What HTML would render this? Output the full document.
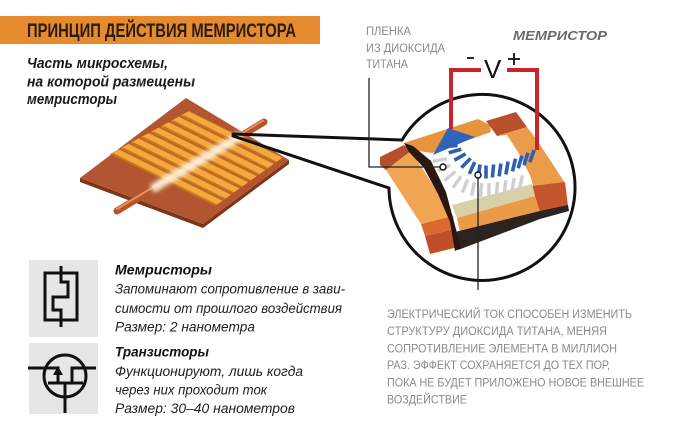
<!DOCTYPE html>
<html><head><meta charset="utf-8"><style>
html,body{margin:0;padding:0;background:#fff;}
svg{display:block;}
</style></head><body>
<svg xmlns="http://www.w3.org/2000/svg" width="696" height="429" viewBox="0 0 696 429">
<defs>
<filter id="blur" x="-20%" y="-50%" width="140%" height="200%"><feGaussianBlur stdDeviation="2.2"/></filter>
</defs>
<rect width="696" height="429" fill="#fff"/>

<!-- Header -->
<rect x="0" y="16" width="320" height="28" fill="#e58a2d"/>
<text x="27" y="37" font-family="Liberation Sans, sans-serif" font-weight="bold" font-size="19.5" textLength="269" lengthAdjust="spacingAndGlyphs" fill="#2a1c12">ПРИНЦИП ДЕЙСТВИЯ МЕМРИСТОРА</text>

<!-- Subtitle -->
<g font-family="Liberation Sans, sans-serif" font-weight="bold" font-style="italic" font-size="14.5" fill="#1a1a1a">
<text x="27" y="68" textLength="141" lengthAdjust="spacingAndGlyphs">Часть микросхемы,</text>
<text x="27" y="86.5" textLength="168" lengthAdjust="spacingAndGlyphs">на которой размещены</text>
<text x="27" y="104" textLength="90" lengthAdjust="spacingAndGlyphs">мемристоры</text>
</g>

<!-- Chip -->
<polygon points="80,178 203,224 289,160 289,164 203,228 80,182" fill="#7d3518"/>
<polygon points="186,98 289,160 203,224 80,178" fill="#b35530"/>
<line x1="117" y1="211" x2="264" y2="122" stroke="#b4552a" stroke-width="7" stroke-linecap="round"/>
<line x1="117" y1="209" x2="263" y2="120.5" stroke="#e3915c" stroke-width="2" stroke-linecap="round"/>
<g>
<polygon points="110,154 119.5,148.8 223.1,200.2 215,206" fill="#c47220"/>
<polygon points="111.5,153.2 118.5,149.4 222.3,200.8 216.3,205.1" fill="#f4a83e"/>
<polygon points="120,148.6 129.5,143.4 231.7,194.1 223.6,199.9" fill="#c47220"/>
<polygon points="121.5,147.8 128.5,144.0 230.9,194.7 224.9,199.0" fill="#f4a83e"/>
<polygon points="130,143.1 139.5,137.9 240.2,187.9 232.1,193.7" fill="#c47220"/>
<polygon points="131.5,142.3 138.5,138.5 239.4,188.5 233.4,192.8" fill="#f4a83e"/>
<polygon points="140,137.7 149.5,132.5 248.8,181.8 240.7,187.6" fill="#c47220"/>
<polygon points="141.5,136.9 148.5,133.1 248.0,182.4 242.0,186.7" fill="#f4a83e"/>
<polygon points="150,132.3 159.5,127.1 257.4,175.6 249.3,181.4" fill="#c47220"/>
<polygon points="151.5,131.5 158.5,127.7 256.6,176.2 250.6,180.5" fill="#f4a83e"/>
<polygon points="160,126.9 169.5,121.7 266.0,169.5 257.9,175.3" fill="#c47220"/>
<polygon points="161.5,126.1 168.5,122.3 265.2,170.1 259.2,174.4" fill="#f4a83e"/>
<polygon points="170,121.4 179.5,116.2 274.5,163.4 266.4,169.2" fill="#c47220"/>
<polygon points="171.5,120.6 178.5,116.8 273.7,164.0 267.7,168.3" fill="#f4a83e"/>
<polygon points="180,116 189.5,110.8 283.1,157.2 275,163" fill="#c47220"/>
<polygon points="181.5,115.2 188.5,111.4 282.3,157.8 276.3,162.1" fill="#f4a83e"/>
</g>
<g stroke="#c47220" stroke-width="1.2" opacity="0.9">
<line x1="113" y1="153.6" x2="217" y2="205"/>
<line x1="123" y1="148" x2="225.5" y2="199"/>
<line x1="133" y1="142.5" x2="234" y2="193"/>
<line x1="143" y1="137" x2="242.5" y2="187"/>
<line x1="153" y1="131.7" x2="251" y2="180.8"/>
<line x1="163" y1="126.2" x2="259.8" y2="174.6"/>
<line x1="173" y1="120.8" x2="268.3" y2="168.6"/>
<line x1="183" y1="115.4" x2="277" y2="162.4"/>
</g>
<line x1="152" y1="189" x2="242" y2="135" stroke="#fff6e2" stroke-width="9" opacity="0.9" filter="url(#blur)"/>

<!-- Callout -->
<g stroke="#111" stroke-width="3" fill="none" stroke-linecap="round" stroke-linejoin="round">
<path d="M233,134 L402,140"/>
<path d="M233,136 L389,188"/>
<path d="M402,140 A93,93 0 1 1 389,188"/>
</g>

<!-- Magnified device -->
<polygon points="404,143 478,119 490,125 491,132 432,153 412,150" fill="#e8943e"/>
<polygon points="486,121 516,112 527,127 497,136" fill="#b8502c"/>
<polygon points="497,136 527,127 537,140 565,183 535,192 530,175 518,152 507,135" fill="#eb9c4a"/>
<polygon points="532,186 565,182 568,206 540,214" fill="#c4552c"/>
<polygon points="452,205 532,184 535,196 457,218" fill="#d8d0a6"/>
<polygon points="457,218 535,196 540,212 460,232" fill="#eb9a48"/>
<polygon points="455,232 540,211 568,205 569,211 540,219 458,250" fill="#2b2420"/>
<polygon points="380,157 404,145 411,151 386,170 380,165" fill="#b54f2c"/>
<polygon points="386,170 411,151 453,216 421,224" fill="#f0a552"/>
<polygon points="421,224 453,216 455,229 425,236" fill="#d9692e"/>
<polygon points="425,236 455,229 458,247 430,254" fill="#bf4e2a"/>
<polygon points="404,143 413,146 431,161 446,192 461,248 455,251 450,222 438,194 424,168 409,152" fill="#2a1712"/>

<!-- gray bars -->
<g stroke="#cfcfcf" stroke-width="3.4">
<line x1="433" y1="161.2" x2="447" y2="158.8" />
<line x1="437.7" y1="170.9" x2="450.3" y2="165.1" />
<line x1="444.6" y1="180.5" x2="455.4" y2="171.5" />
<line x1="453" y1="187.7" x2="461" y2="176.3" />
<line x1="462.4" y1="192.5" x2="467.6" y2="179.5" />
<line x1="471.5" y1="195.8" x2="474.5" y2="182.2" />
<line x1="480.4" y1="197" x2="481.6" y2="183" />
<line x1="489" y1="197" x2="489" y2="183" />
<line x1="496.4" y1="196" x2="497.6" y2="182" />
<line x1="504" y1="193.9" x2="506" y2="180.1" />
<line x1="511.8" y1="191.9" x2="514.2" y2="178.1" />
<line x1="519.5" y1="188.8" x2="522.5" y2="175.2" />
</g>
<!-- blue bars -->
<g stroke="#2d5fb3" stroke-width="3.6">
<line x1="444.5" y1="146.6" x2="457.5" y2="145.4" />
<line x1="448.7" y1="152.7" x2="461.3" y2="149.3" />
<line x1="454.4" y1="160.2" x2="465.6" y2="153.8" />
<line x1="461.4" y1="167.6" x2="470.6" y2="158.4" />
<line x1="469.3" y1="173.9" x2="474.7" y2="162.1" />
<line x1="477.9" y1="177.4" x2="480.1" y2="164.6" />
<line x1="486" y1="178.5" x2="486" y2="165.5" />
<line x1="492.4" y1="177.5" x2="493.6" y2="164.5" />
<line x1="499.1" y1="176.4" x2="500.9" y2="163.6" />
<line x1="505.9" y1="174.4" x2="508.1" y2="161.6" />
<line x1="512.5" y1="171.3" x2="515.5" y2="158.7" />
<line x1="518.2" y1="168.2" x2="521.8" y2="155.8" />
<line x1="524" y1="165.2" x2="528" y2="152.8" />
<line x1="529.8" y1="162.1" x2="534.2" y2="149.9" />
</g>
<polygon points="433,155 448,128 475,137" fill="#2f64b8"/>

<!-- Red wires -->
<g stroke="#c9252b" stroke-width="4" fill="none">
<path d="M451,129 V70 H481"/>
<path d="M507,70 H537 V150"/>
</g>
<text x="484" y="78" font-family="Liberation Sans, sans-serif" font-size="26" fill="#111">V</text>
<g stroke="#111" stroke-width="1.8">
<line x1="467" y1="58" x2="474" y2="58"/>
<line x1="508" y1="59" x2="520" y2="59"/>
<line x1="514" y1="53" x2="514" y2="65"/>
</g>
<text x="513" y="40" font-family="Liberation Sans, sans-serif" font-weight="bold" font-style="italic" font-size="13" textLength="94" lengthAdjust="spacingAndGlyphs" fill="#6b6b6b">МЕМРИСТОР</text>

<!-- Label -->
<g font-family="Liberation Sans, sans-serif" font-size="12" fill="#8c8c8c">
<text x="366" y="35" textLength="45" lengthAdjust="spacingAndGlyphs">ПЛЕНКА</text>
<text x="366" y="52" textLength="79" lengthAdjust="spacingAndGlyphs">ИЗ ДИОКСИДА</text>
<text x="366" y="68" textLength="42" lengthAdjust="spacingAndGlyphs">ТИТАНА</text>
</g>
<g stroke="#222" stroke-width="1.3" fill="none">
<path d="M369,78 V167 H440"/>
<path d="M478,178 V290"/>
</g>
<circle cx="443" cy="167" r="3" fill="#fff" stroke="#111" stroke-width="1.4"/>
<circle cx="478" cy="175" r="3" fill="#fff" stroke="#111" stroke-width="1.4"/>

<!-- Paragraph -->
<g font-family="Liberation Sans, sans-serif" font-size="11.5" fill="#8a8a8a">
<text x="387" y="318" textLength="245" lengthAdjust="spacingAndGlyphs">ЭЛЕКТРИЧЕСКИЙ ТОК СПОСОБЕН ИЗМЕНИТЬ</text>
<text x="387" y="335" textLength="220" lengthAdjust="spacingAndGlyphs">СТРУКТУРУ ДИОКСИДА ТИТАНА, МЕНЯЯ</text>
<text x="387" y="352.5" textLength="230" lengthAdjust="spacingAndGlyphs">СОПРОТИВЛЕНИЕ ЭЛЕМЕНТА В МИЛЛИОН</text>
<text x="387" y="369" textLength="223" lengthAdjust="spacingAndGlyphs">РАЗ. ЭФФЕКТ СОХРАНЯЕТСЯ ДО ТЕХ ПОР,</text>
<text x="387" y="386.5" textLength="257" lengthAdjust="spacingAndGlyphs">ПОКА НЕ БУДЕТ ПРИЛОЖЕНО НОВОЕ ВНЕШНЕЕ</text>
<text x="387" y="403.5" textLength="80" lengthAdjust="spacingAndGlyphs">ВОЗДЕЙСТВИЕ</text>
</g>

<!-- Legend icons -->
<rect x="29" y="260" width="69" height="77" fill="#e6e6e6"/>
<rect x="29" y="343" width="69" height="71" fill="#e6e6e6"/>
<g stroke="#111" stroke-width="3" fill="none" stroke-linejoin="miter">
<rect x="45" y="273" width="32" height="47"/>
<path d="M61,266 V282 H68 V297 H53 V310 H61 V327"/>
<circle cx="65" cy="376" r="21"/>
<path d="M28,368 H58 V383"/>
<path d="M72,383 V368 H96"/>
<path d="M48,383 H83"/>
<path d="M65,383 V413"/>
</g>
<polygon points="58,366 53,375 63,375" fill="#111"/>

<!-- Legend text -->
<g font-family="Liberation Sans, sans-serif" font-style="italic" font-size="13.5" fill="#1e1e1e">
<text x="115" y="274.5" font-weight="bold" fill="#111" textLength="97" lengthAdjust="spacingAndGlyphs">Мемристоры</text>
<text x="115" y="293.5" textLength="230" lengthAdjust="spacingAndGlyphs">Запоминают сопротивление в зави-</text>
<text x="115" y="313" textLength="227" lengthAdjust="spacingAndGlyphs">симости от прошлого воздействия</text>
<text x="115" y="331.5" textLength="140" lengthAdjust="spacingAndGlyphs">Размер: 2 нанометра</text>
<text x="115" y="356.5" font-weight="bold" fill="#111" textLength="94" lengthAdjust="spacingAndGlyphs">Транзисторы</text>
<text x="115" y="376" textLength="188" lengthAdjust="spacingAndGlyphs">Функционируют, лишь когда</text>
<text x="115" y="394.5" textLength="152" lengthAdjust="spacingAndGlyphs">через них проходит ток</text>
<text x="115" y="413" textLength="180" lengthAdjust="spacingAndGlyphs">Размер: 30–40 нанометров</text>
</g>
</svg>
</body></html>
